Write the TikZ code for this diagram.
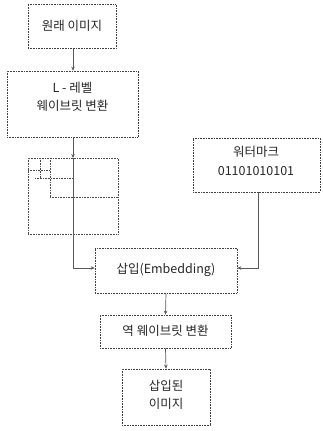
\documentclass[tikz,border=0pt]{standalone}
\usepackage{fontspec}
\setmainfont{Noto Sans CJK KR}
\usetikzlibrary{arrows.meta}
\begin{document}
\begin{tikzpicture}[x=1pt,y=-1pt,
  box/.style={draw=black!75, line width=0.6pt, densely dotted, inner sep=0pt},
  txt/.style={font=\fontsize{12.5}{18.5}\selectfont, align=center, text=black!85, inner sep=0pt},
  conn/.style={draw=black!65, line width=0.7pt, -{Stealth[length=4pt,width=3.5pt]}},
  plain/.style={draw=black!65, line width=0.7pt},
  sub/.style={draw=black!70, line width=0.6pt, densely dotted}]
\useasboundingbox (0,0) rectangle (323,431);
% boxes
\node[box, minimum width=88pt, minimum height=44pt] (b1) at (72,26.5) {};
\node[txt] (t1) at (72,26) {원래 이미지};
\node[box, minimum width=131pt, minimum height=66pt] (b2) at (72.5,104) {};
\node[txt] (t2) at (72.5,97) {L - 레벨\\웨이브릿 변환};
% subband image
\node[sub, minimum width=90pt, minimum height=76pt, inner sep=0pt] (sb) at (73,196) {};
\coordinate (sbtop) at (73,158);
\coordinate (sbbot) at (73,234);
\draw[sub] (50,197) -- (118,197);
\draw[sub] (50,158) -- (50,197);
\draw[sub] (35,178) -- (73,178);
\draw[sub] (40,158) -- (40,178);
\draw[sub] (28,170) -- (50,170);
% watermark
\node[box, minimum width=127pt, minimum height=54pt] (wm) at (256.5,165) {};
\node[txt] (twm) at (256,161) {워터마크\\01101010101};
% embedding
\node[box, minimum width=142pt, minimum height=45pt] (emb) at (166,270.5) {};
\node[txt] (temb) at (166,270) {삽입(Embedding)};
% inverse
\node[box, minimum width=131pt, minimum height=33pt] (inv) at (165.5,331.5) {};
\node[txt] (tinv) at (165.5,330.5) {역 웨이브릿 변환};
% final
\node[box, minimum width=88pt, minimum height=56pt] (fin) at (166,397) {};
\node[txt] (tfin) at (166,395) {삽입된\\이미지};
% connectors
\draw[conn] (b1.south -| 73,0) -- (b2.north -| 73,0);
\draw[conn] (b2.south -| sbtop) -- (sbtop);
\draw[plain] (sbtop) -- (sbbot);
\coordinate (ej) at (73,268);
\draw[conn] (sbbot) -- (ej) -- (emb.west |- ej);
\coordinate (wj) at (258,268);
\draw[conn] (wm.south -| wj) -- (wj) -- (emb.east |- wj);
\draw[conn] (emb.south) -- (inv.north);
\draw[conn] (inv.south) -- (fin.north);
\end{tikzpicture}
\end{document}
